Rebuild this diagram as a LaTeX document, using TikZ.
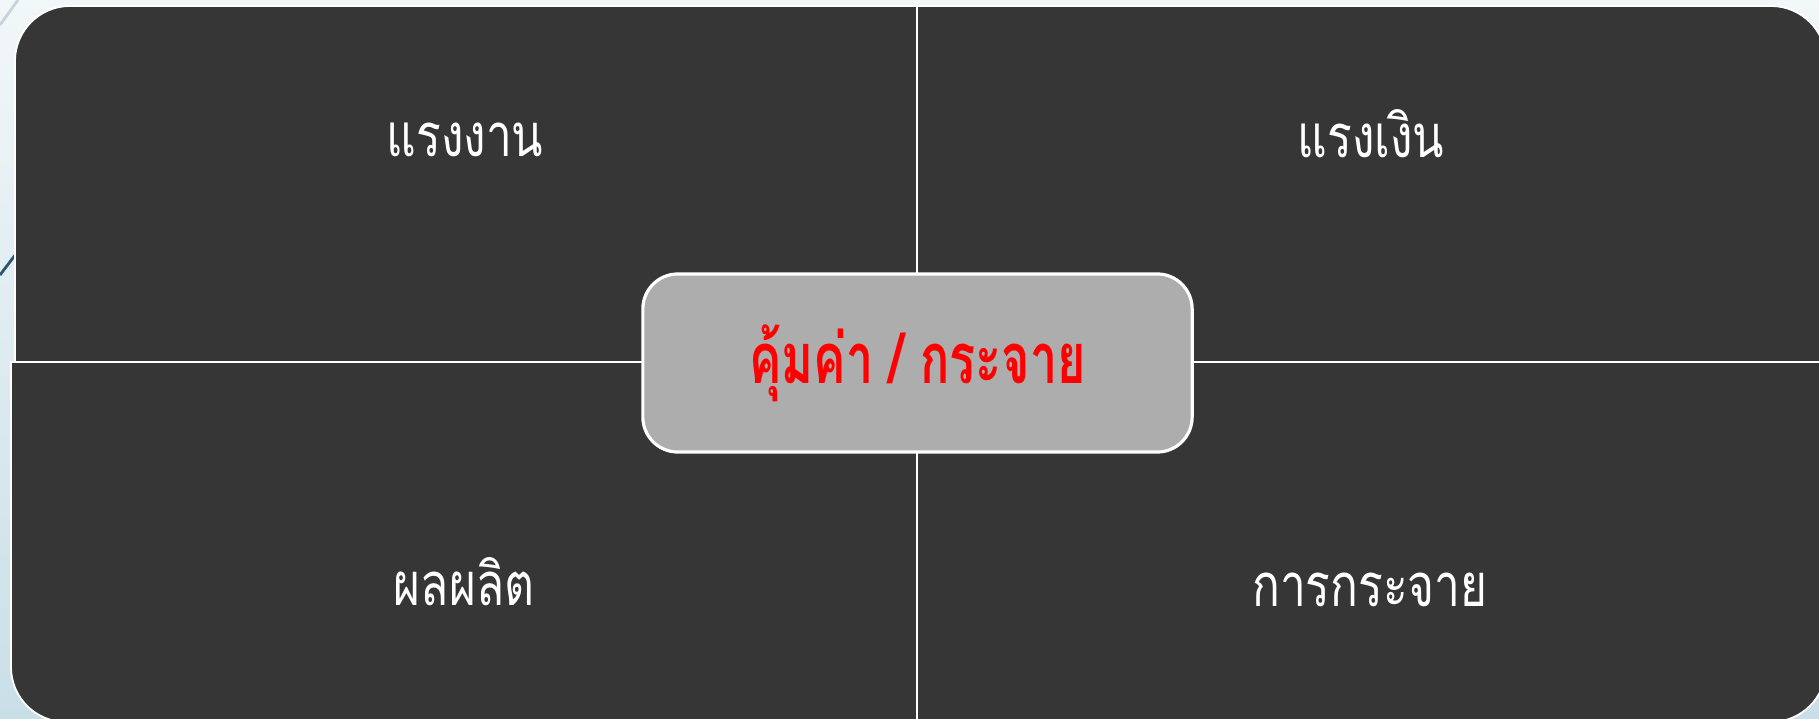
\documentclass[tikz,border=0pt]{standalone}
\usepackage{fontspec}
\newfontfamily\thaifont[Script=Thai,FakeStretch=0.77]{Loma}
\newfontfamily\thaibold[Script=Thai,FakeStretch=0.69,BoldFont={Loma Bold}]{Loma}
\definecolor{quad}{HTML}{363636}
\definecolor{centerfill}{HTML}{ADADAD}
\definecolor{bgtop}{HTML}{F2F7F9}
\definecolor{bgbot}{HTML}{C9DFE7}
\definecolor{decolight}{HTML}{C3D6DE}
\definecolor{decodark}{HTML}{2F5470}
\tikzset{
  quadrant/.style={fill=quad, draw=white, line width=0.5pt},
  qlabel/.style={text=white, font=\thaifont\fontsize{17}{20}\selectfont, inner sep=0pt},
  centerbox/.style={fill=centerfill, draw=white, line width=0.9pt, rounded corners=0.35cm, minimum width=5.49cm, minimum height=1.78cm, inner sep=0pt, text=red, font=\thaibold\bfseries\fontsize{20}{24}\selectfont}
}
\begin{document}
\begin{tikzpicture}[x=0.01cm,y=0.01cm]
\useasboundingbox (0,0) rectangle (1819,718);
\shade[top color=bgtop, bottom color=bgbot] (0,0) rectangle (1819,718);
\draw[decolight, line width=0.8pt] (0,693) -- (18,718);
\draw[decodark, line width=0.8pt] (0,443) -- (22,472);
% quadrants
\draw[quadrant] (917,356) -- (15,356) -- (15,657) arc[start angle=180, end angle=90, radius=0.55cm] -- (917,712) -- cycle;
\draw[quadrant] (917,356) -- (917,712) -- (1771,712) arc[start angle=90, end angle=0, radius=0.55cm] -- (1826,356) -- cycle;
\draw[quadrant] (917,356) -- (11,356) -- (11,51) arc[start angle=180, end angle=270, radius=0.55cm] -- (917,-4) -- cycle;
\draw[quadrant] (917,356) -- (1826,356) -- (1826,51) arc[start angle=0, end angle=-90, radius=0.55cm] -- (917,-4) -- cycle;
% labels
\node[qlabel] (tl) at (465,578) {แรงงาน};
\node[qlabel] (tr) at (1371,584) {แรงเงิน};
\node[qlabel] (bl) at (464,136) {ผลผลิต};
\node[qlabel] (br) at (1370,128) {การกระจาย};
\node[centerbox] (c) at (917.5,355) {คุ้มค่า / กระจาย};
\end{tikzpicture}
\end{document}
